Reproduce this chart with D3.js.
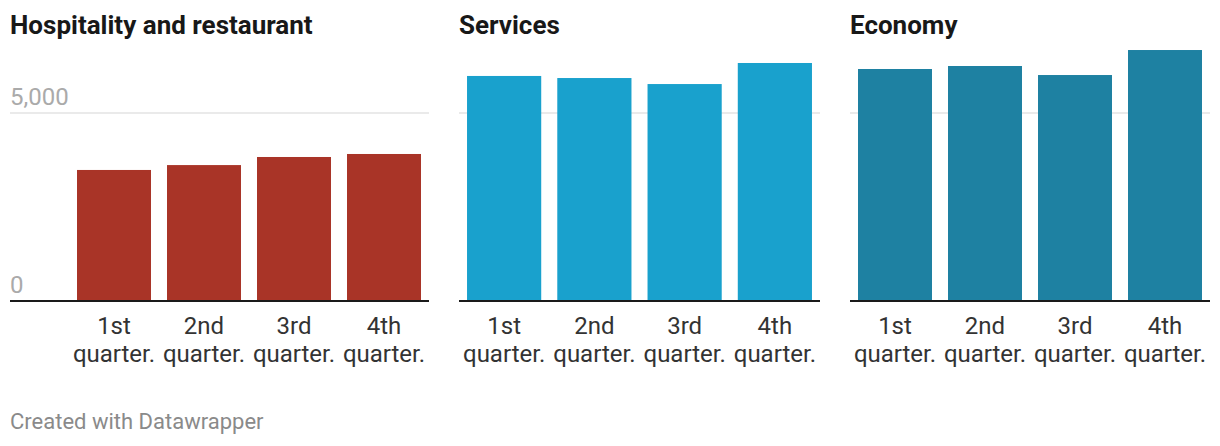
<!DOCTYPE html>
<html>
<head>
<meta charset="utf-8">
<script src="https://cdn.jsdelivr.net/npm/d3@7"></script>
<style>
    body { margin: 0; background: #fff; font-family: Roboto, sans-serif; }
    svg text { font-family: Roboto, sans-serif; }
</style>
</head>
<body>
<svg id="chart"></svg>
<script>
"use strict";

// data
const quarters = ["1st quarter.", "2nd quarter.", "3rd quarter.", "4th quarter."];
const panelTitles = ["Hospitality and restaurant", "Services", "Economy"];
const hospitality = [3485, 3615, 3830, 3910];
const services = [5985, 5930, 5770, 6330];
const economy = [6170, 6250, 6010, 6675];
const yTicks = [0, 5000];

const width = 1220;
const height = 446;
const baseY = 301;

const svg = d3.select("#chart")
    .attr("width", width)
    .attr("height", height);

const panels = [
    { title: panelTitles[0], values: hospitality, color: "#a93427", left: 10, plotLeft: 69, right: 429, labels: true },
    { title: panelTitles[1], values: services, color: "#19a1cd", left: 459, plotLeft: 459, right: 820, labels: false },
    { title: panelTitles[2], values: economy, color: "#1e81a2", left: 850, plotLeft: 850, right: 1210, labels: false }
];

// 5,000 sits 188px above the baseline
const y = d3.scaleLinear()
    .domain([0, 7000])
    .range([baseY, baseY - 7000 * 188 / 5000]);

for (const p of panels) {
    const g = svg.append("g");

    g.append("text")
        .attr("x", p.left)
        .attr("y", 34)
        .style("font-size", "26px")
        .style("font-weight", 700)
        .style("fill", "#181818")
        .text(p.title);

    const x = d3.scaleBand()
        .domain(quarters)
        .range([p.plotLeft, p.right])
        .paddingInner(0.178)
        .paddingOuter(0.089);

    // gridlines
    g.selectAll(".grid")
        .data(yTicks.filter(t => t > 0))
        .enter()
        .append("line")
        .attr("x1", p.left)
        .attr("x2", p.right)
        .attr("y1", d => y(d))
        .attr("y2", d => y(d))
        .attr("stroke", "#e3e3e3")
        .attr("stroke-width", 1.5);

    if (p.labels) {
        g.selectAll(".ylab")
            .data(yTicks)
            .enter()
            .append("text")
            .attr("x", p.left)
            .attr("y", d => y(d) - 8)
            .style("font-size", "24px")
            .style("fill", "#aaaaaa")
            .text(d => d3.format(",")(d));
    }

    g.selectAll(".bar")
        .data(p.values)
        .enter()
        .append("rect")
        .attr("x", (d, i) => x(quarters[i]))
        .attr("width", x.bandwidth())
        .attr("y", d => y(d))
        .attr("height", d => y(0) - y(d))
        .attr("fill", p.color);

    g.append("line")
        .attr("x1", p.left)
        .attr("x2", p.right)
        .attr("y1", y(0))
        .attr("y2", y(0))
        .attr("stroke", "#1a1a1a")
        .attr("stroke-width", 2);

    const lab = g.selectAll(".xlab")
        .data(quarters)
        .enter()
        .append("text")
        .attr("text-anchor", "middle")
        .style("font-size", "24px")
        .style("fill", "#333")
        .attr("y", 334);

    lab.append("tspan")
        .attr("x", d => x(d) + x.bandwidth() / 2)
        .text(d => d.split(" ")[0]);
    lab.append("tspan")
        .attr("x", d => x(d) + x.bandwidth() / 2)
        .attr("dy", 28)
        .text(d => d.split(" ")[1]);
}

svg.append("text")
    .attr("x", 10)
    .attr("y", 429)
    .style("font-size", "22px")
    .style("fill", "#8a8a8a")
    .text("Created with Datawrapper");
</script>
</body>
</html>
